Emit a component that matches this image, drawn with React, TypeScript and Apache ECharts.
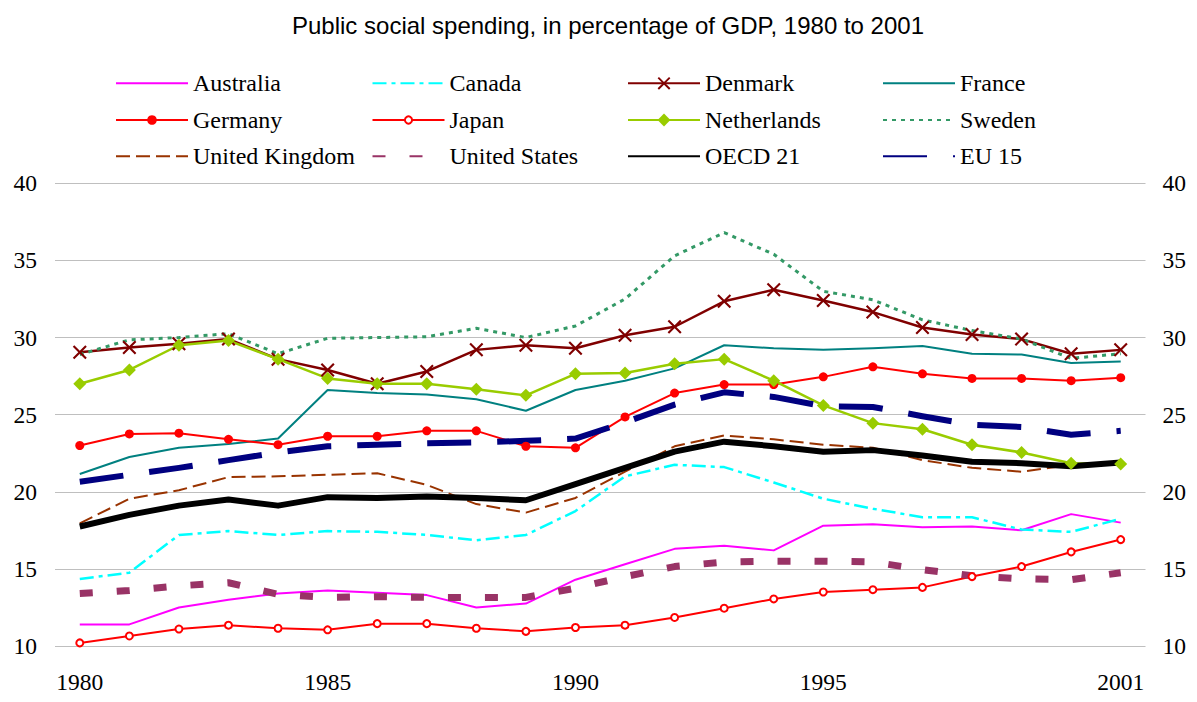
import React, { useEffect, useRef } from 'react';
import * as echarts from 'echarts';

const years = ['1980', '1981', '1982', '1983', '1984', '1985', '1986', '1987', '1988', '1989', '1990',
  '1991', '1992', '1993', '1994', '1995', '1996', '1997', '1998', '1999', '2000', '2001'];

const australia = [11.4, 11.4, 12.5, 13.0, 13.4, 13.6, 13.45, 13.3, 12.5, 12.75, 14.3, 15.3, 16.3, 16.5, 16.2, 17.8, 17.9, 17.7, 17.75, 17.5, 18.55, 18.0];
const canada = [14.35, 14.75, 17.2, 17.45, 17.2, 17.45, 17.4, 17.2, 16.85, 17.2, 18.75, 21.0, 21.75, 21.6, 20.6, 19.55, 18.9, 18.35, 18.35, 17.55, 17.4, 18.25];
const denmark = [29.05, 29.35, 29.6, 29.9, 28.6, 27.9, 27.0, 27.8, 29.2, 29.5, 29.3, 30.15, 30.7, 32.35, 33.1, 32.4, 31.65, 30.65, 30.2, 29.9, 28.95, 29.2];
const france = [21.15, 22.25, 22.85, 23.1, 23.45, 26.6, 26.4, 26.3, 26.0, 25.25, 26.6, 27.2, 28.0, 29.5, 29.3, 29.2, 29.3, 29.45, 28.95, 28.9, 28.35, 28.45];
const germany = [23.0, 23.75, 23.8, 23.4, 23.05, 23.6, 23.6, 23.95, 23.95, 22.95, 22.85, 24.85, 26.4, 26.95, 26.95, 27.45, 28.1, 27.65, 27.35, 27.35, 27.2, 27.4];
const japan = [10.2, 10.65, 11.1, 11.35, 11.15, 11.05, 11.45, 11.45, 11.15, 10.95, 11.2, 11.35, 11.85, 12.45, 13.05, 13.5, 13.65, 13.8, 14.5, 15.15, 16.1, 16.9];
const netherlands = [27.0, 27.9, 29.5, 29.8, 28.6, 27.35, 27.0, 27.0, 26.65, 26.25, 27.65, 27.7, 28.3, 28.6, 27.2, 25.6, 24.45, 24.05, 23.05, 22.55, 21.85, 21.8];
const sweden = [28.9, 29.85, 30.0, 30.25, 28.95, 29.95, 30.0, 30.05, 30.6, 30.0, 30.75, 32.5, 35.3, 36.8, 35.4, 33.0, 32.45, 31.15, 30.45, 29.9, 28.65, 28.95];
const unitedKingdom = [17.95, 19.55, 20.1, 20.95, 21.0, 21.1, 21.2, 20.45, 19.2, 18.65, 19.6, 21.3, 22.95, 23.65, 23.4, 23.05, 22.85, 22.05, 21.55, 21.3, 21.75, 21.8];
const unitedStates = [13.4, 13.6, 13.9, 14.1, 13.35, 13.15, 13.2, 13.15, 13.15, 13.15, 13.75, 14.5, 15.15, 15.45, 15.5, 15.5, 15.45, 14.95, 14.55, 14.35, 14.3, 14.75];
const oecd21 = [17.75, 18.5, 19.1, 19.5, 19.1, 19.65, 19.6, 19.7, 19.6, 19.45, 20.5, 21.55, 22.6, 23.25, 22.95, 22.6, 22.7, 22.35, 21.95, 21.85, 21.65, 21.9];
const eu15 = [20.65, 21.1, 21.55, 22.05, 22.55, 22.95, 23.05, 23.15, 23.2, 23.3, 23.45, 24.5, 25.65, 26.45, 26.15, 25.55, 25.5, 24.9, 24.35, 24.2, 23.7, 23.95];

const xLabelIndices = [0, 5, 10, 15, 21];
const yMin = 10;
const yMax = 40;
const yStep = 5;

const TITLE = 'Public social spending, in percentage of GDP, 1980 to 2001';

const SERIF = '"Liberation Serif", "Times New Roman", serif';
const SANS = '"Liberation Sans", Arial, sans-serif';
const CROSS = 'path://M0,1.5L1.5,0L7,5.5L12.5,0L14,1.5L8.5,7L14,12.5L12.5,14L7,8.5L1.5,14L0,12.5L5.5,7Z';

type Spec = {
  name: string; data: number[]; color: string; width: number; type: any;
  symbol: string; size: number; legendH: number; col: number; row: number; border?: number;
};

const specs: Spec[] = [
  { name: 'Australia', data: australia, color: '#FF00FF', width: 2, type: 'solid', symbol: 'none', size: 0, legendH: 14, col: 0, row: 0 },
  { name: 'Canada', data: canada, color: '#00FFFF', width: 2.5, type: [14, 5, 4, 5], symbol: 'none', size: 0, legendH: 14, col: 1, row: 0 },
  { name: 'Denmark', data: denmark, color: '#800000', width: 2.5, type: 'solid', symbol: CROSS, size: 14, legendH: 16, col: 2, row: 0 },
  { name: 'France', data: france, color: '#008080', width: 2, type: 'solid', symbol: 'none', size: 0, legendH: 14, col: 3, row: 0 },
  { name: 'Germany', data: germany, color: '#FF0000', width: 2, type: 'solid', symbol: 'circle', size: 9, legendH: 12, col: 0, row: 1 },
  { name: 'Japan', data: japan, color: '#FF0000', width: 2, type: 'solid', symbol: 'emptyCircle', size: 7, legendH: 9, col: 1, row: 1, border: 1.8 },
  { name: 'Netherlands', data: netherlands, color: '#99CC00', width: 2.5, type: 'solid', symbol: 'diamond', size: 13, legendH: 16, col: 2, row: 1 },
  { name: 'Sweden', data: sweden, color: '#339966', width: 3, type: [4, 5], symbol: 'none', size: 0, legendH: 14, col: 3, row: 1 },
  { name: 'United Kingdom', data: unitedKingdom, color: '#993300', width: 2, type: [14, 6], symbol: 'none', size: 0, legendH: 14, col: 0, row: 2 },
  { name: 'United States', data: unitedStates, color: '#993366', width: 7, type: [13, 24], symbol: 'none', size: 0, legendH: 14, col: 1, row: 2 },
  { name: 'OECD 21', data: oecd21, color: '#000000', width: 6, type: 'solid', symbol: 'none', size: 0, legendH: 14, col: 2, row: 2 },
  { name: 'EU 15', data: eu15, color: '#000080', width: 6, type: [44, 26], symbol: 'none', size: 0, legendH: 14, col: 3, row: 2 },
];

const colLefts = [107, 363.5, 619, 874];
const rowCenters = [75.3, 112, 148.3];

export default function App() {
  const ref = useRef<HTMLDivElement>(null);
  useEffect(() => {
    if (!ref.current) return;
    const chart = echarts.init(ref.current, null, { renderer: 'svg' });
    const legends = specs.map((s) => ({
      data: [s.symbol === 'none'
        ? { name: s.name, itemStyle: { opacity: 0 } }
        : { name: s.name }],
      left: colLefts[s.col],
      top: rowCenters[s.row] - 12,
      padding: 0,
      itemWidth: 72,
      itemHeight: s.legendH,
      selectedMode: false,
      textStyle: { fontFamily: SERIF, fontSize: 24, color: '#000' },
    }));
    const series = specs.map((s) => ({
      name: s.name,
      type: 'line',
      data: s.data,
      symbol: s.symbol,
      symbolSize: s.size,
      showSymbol: s.symbol !== 'none',
      symbolKeepAspect: true,
      lineStyle: { color: s.color, width: s.width, type: s.type, cap: 'butt', join: 'round' },
      itemStyle: { color: s.color, borderWidth: s.border ?? 0, borderColor: s.color },
      emphasis: { disabled: true },
      silent: true,
    }));
    const tickStyle = { fontFamily: SERIF, fontSize: 23.5, color: '#000' };
    chart.setOption({
      animation: false,
      title: {
        text: TITLE,
        left: 279,
        top: 0,
        textStyle: { fontFamily: SANS, fontSize: 24, fontWeight: 'normal', color: '#000' },
      },
      legend: legends,
      grid: { left: 47, right: 37, top: 175.3, bottom: 39.5, containLabel: false },
      xAxis: {
        type: 'category',
        data: years,
        boundaryGap: true,
        axisLine: { show: false },
        axisTick: { show: false },
        axisLabel: {
          interval: (i: number) => xLabelIndices.indexOf(i) >= 0,
          margin: 24,
          ...tickStyle,
        },
        splitLine: { show: false },
      },
      yAxis: [
        {
          type: 'value', min: yMin, max: yMax, interval: yStep, position: 'left',
          axisLine: { show: false }, axisTick: { show: false },
          axisLabel: { margin: 18, ...tickStyle },
          splitLine: { show: true, lineStyle: { color: '#BFBFBF', width: 1 } },
        },
        {
          type: 'value', min: yMin, max: yMax, interval: yStep, position: 'right',
          axisLine: { show: false }, axisTick: { show: false },
          axisLabel: { margin: 17, ...tickStyle },
          splitLine: { show: false },
        },
      ],
      series,
    });
    return () => chart.dispose();
  }, []);
  return <div ref={ref} style={{ width: 1181, height: 686 }} />;
}
